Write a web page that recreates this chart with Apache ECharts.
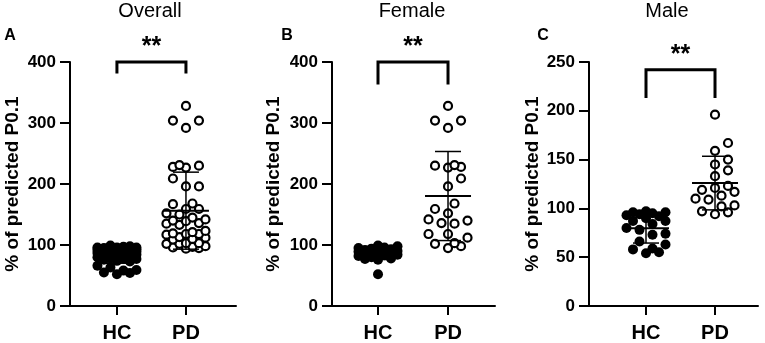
<!DOCTYPE html>
<html>
<head>
<meta charset="utf-8">
<script src="https://cdn.jsdelivr.net/npm/echarts@6/dist/echarts.min.js"></script>
<style>
  html, body { margin: 0; padding: 0; background: #fff; }
  #chart { width: 765px; height: 343px; }
</style>
</head>
<body>
<div id="chart"></div>
<script>
// groups on the x axis
const groups = ['HC', 'PD'];

// % of predicted P0.1
const femaleHC = [52, 76, 77, 78, 80, 82, 83, 84, 85, 86, 87, 88, 89, 90, 90, 91, 92, 93, 94, 95, 96, 98, 99];
const femalePD = [328, 304, 304, 292, 227, 228, 230, 231, 209, 196, 168, 159, 152, 135, 136, 140, 142, 112, 118, 118, 103, 102, 95, 98];
const maleHC = [54, 55, 58, 59, 63, 66, 73, 74, 78, 80, 84, 87, 87, 90, 92, 93, 94, 95, 96, 96, 97];
const malePD = [196, 167, 159, 150, 145, 139, 133, 121, 123, 113, 117, 119, 110, 109, 102, 103, 94, 96, 97];
// overall panel = both sexes pooled
const overallHC = femaleHC.concat(maleHC);
const overallPD = femalePD.concat(malePD);

const panelTitles = ['Overall', 'Female', 'Male'];
const panelLetters = ['A', 'B', 'C'];
const yMaxList = [400, 400, 250];
const yStepList = [100, 100, 50];
const sigLabel = '**';

const panelData = [
  [overallHC, overallPD],
  [femaleHC, femalePD],
  [maleHC, malePD],
];

// layout of each panel (pixels / axis units)
const panels = [
  { left: 70, width: 166, xMin: 0.32, xMax: 2.725, nameGap: 48, bracket: [400, 381], titleX: 150, letterX: 10 },
  { left: 332, width: 163, xMin: 0.343, xMax: 2.671, nameGap: 49, bracket: [400, 363], titleX: 412, letterX: 287 },
  { left: 589, width: 169, xMin: 0.174, xMax: 2.623, nameGap: 41, bracket: [242, 213], titleX: 667, letterX: 543 },
];
const gridTop = 62;
const gridHeight = 245;

const font = 'Arial, "Liberation Sans", sans-serif';

function mean(a) {
  return a.reduce((s, v) => s + v, 0) / a.length;
}
function sd(a) {
  const m = mean(a);
  return Math.sqrt(a.reduce((s, v) => s + (v - m) * (v - m), 0) / (a.length - 1));
}

// simple beeswarm: spread points sideways so they don't sit on top of each other
function swarm(values, center, pxY, pxX) {
  const D = 10.5;
  const step = 6.5;
  const maxOff = 21;
  const placed = [];
  const out = [];
  values.slice().sort((a, b) => a - b).forEach((v, i) => {
    const y = v * pxY;
    const cands = [0];
    for (let k = 1; k * step <= maxOff; k++) {
      const s = i % 2 ? 1 : -1;
      cands.push(s * k * step, -s * k * step);
    }
    let best = 0, bestScore = -1;
    for (const off of cands) {
      let minD = Infinity;
      placed.forEach(p => {
        const d = Math.hypot(p[0] - off, p[1] - y);
        if (d < minD) minD = d;
      });
      if (minD >= D) { best = off; break; }
      if (minD > bestScore) { bestScore = minD; best = off; }
    }
    placed.push([best, y]);
    out.push([center + best / pxX, v]);
  });
  return out;
}

const chart = echarts.init(document.getElementById('chart'));

const grid = [], xAxis = [], yAxis = [], series = [], graphic = [];

panels.forEach((p, i) => {
  grid.push({ left: p.left, top: gridTop, width: p.width, height: gridHeight });
  xAxis.push({
    gridIndex: i,
    type: 'value',
    min: p.xMin,
    max: p.xMax,
    splitLine: { show: false },
    axisLine: { show: true, onZero: false, lineStyle: { color: '#000', width: 2 } },
    axisTick: { show: true, customValues: [1, 2], length: 9, lineStyle: { color: '#000', width: 2 } },
    axisLabel: {
      customValues: [1, 2],
      formatter: v => groups[Math.round(v) - 1],
      color: '#000', fontSize: 20, fontWeight: 'bold', fontFamily: font, margin: 17,
    },
  });
  yAxis.push({
    gridIndex: i,
    type: 'value',
    min: 0,
    max: yMaxList[i],
    interval: yStepList[i],
    splitLine: { show: false },
    axisLine: { show: true, lineStyle: { color: '#000', width: 2 } },
    axisTick: { show: true, length: 10, lineStyle: { color: '#000', width: 2 } },
    axisLabel: { color: '#000', fontSize: 17, fontWeight: 'bold', fontFamily: font, margin: 14 },
    name: '% of predicted P0.1',
    nameLocation: 'middle',
    nameGap: p.nameGap,
    nameTextStyle: { color: '#000', fontSize: 19, fontWeight: 'bold', fontFamily: font },
  });

  const pxY = gridHeight / yMaxList[i];
  const pxX = p.width / (p.xMax - p.xMin);
  const [hc, pd] = panelData[i];

  series.push({
    type: 'scatter',
    xAxisIndex: i, yAxisIndex: i,
    data: swarm(hc, 1, pxY, pxX),
    symbol: 'circle',
    symbolSize: 10,
    itemStyle: { color: '#000', opacity: 1 },
    silent: true,
    z: 2,
  });
  series.push({
    type: 'scatter',
    xAxisIndex: i, yAxisIndex: i,
    data: swarm(pd, 2, pxY, pxX),
    symbol: 'circle',
    symbolSize: 8,
    itemStyle: { color: '#fff', borderColor: '#000', borderWidth: 2.2, opacity: 1 },
    silent: true,
    z: 2,
  });
  // mean +- SD
  series.push({
    type: 'custom',
    xAxisIndex: i, yAxisIndex: i,
    data: [[1, mean(hc), sd(hc)], [2, mean(pd), sd(pd)]],
    encode: { x: 0, y: 1 },
    silent: true,
    z: 5,
    renderItem(params, api) {
      const x = api.value(0), m = api.value(1), s = api.value(2);
      const c = api.coord([x, m]);
      const hi = api.coord([x, m + s]);
      const lo = api.coord([x, m - s]);
      const thin = { stroke: '#000', lineWidth: 1.5 };
      return {
        type: 'group',
        children: [
          { type: 'line', shape: { x1: c[0] - 23, y1: c[1], x2: c[0] + 23, y2: c[1] }, style: { stroke: '#000', lineWidth: 2 } },
          { type: 'line', shape: { x1: c[0], y1: hi[1], x2: c[0], y2: lo[1] }, style: thin },
          { type: 'line', shape: { x1: c[0] - 13, y1: hi[1], x2: c[0] + 13, y2: hi[1] }, style: thin },
          { type: 'line', shape: { x1: c[0] - 13, y1: lo[1], x2: c[0] + 13, y2: lo[1] }, style: thin },
        ],
      };
    },
  });
  // significance bracket
  series.push({
    type: 'custom',
    xAxisIndex: i, yAxisIndex: i,
    data: [[1, 2, p.bracket[0], p.bracket[1]]],
    encode: { x: [0, 1], y: [2, 3] },
    clip: false,
    silent: true,
    z: 5,
    renderItem(params, api) {
      const a = api.coord([api.value(0), api.value(2)]);
      const b = api.coord([api.value(1), api.value(3)]);
      return {
        type: 'group',
        children: [
          {
            type: 'polyline',
            shape: { points: [[a[0], b[1]], [a[0], a[1]], [b[0], a[1]], [b[0], b[1]]] },
            style: { stroke: '#000', lineWidth: 3, fill: null },
          },
          {
            type: 'text',
            x: (a[0] + b[0]) / 2,
            y: a[1] - 15,
            style: {
              text: sigLabel, fill: '#000', font: 'bold 25px ' + font,
              textAlign: 'center', textVerticalAlign: 'middle',
            },
          },
        ],
      };
    },
  });

  graphic.push({
    type: 'text', x: p.titleX, y: 11,
    style: { text: panelTitles[i], fill: '#000', font: '20px ' + font, textAlign: 'center', textVerticalAlign: 'middle' },
  });
  graphic.push({
    type: 'text', x: p.letterX, y: 36,
    style: { text: panelLetters[i], fill: '#000', font: 'bold 16px ' + font, textAlign: 'center', textVerticalAlign: 'middle' },
  });
});

chart.setOption({
  backgroundColor: '#fff',
  animation: false,
  grid,
  xAxis,
  yAxis,
  series,
  graphic,
});
</script>
</body>
</html>
